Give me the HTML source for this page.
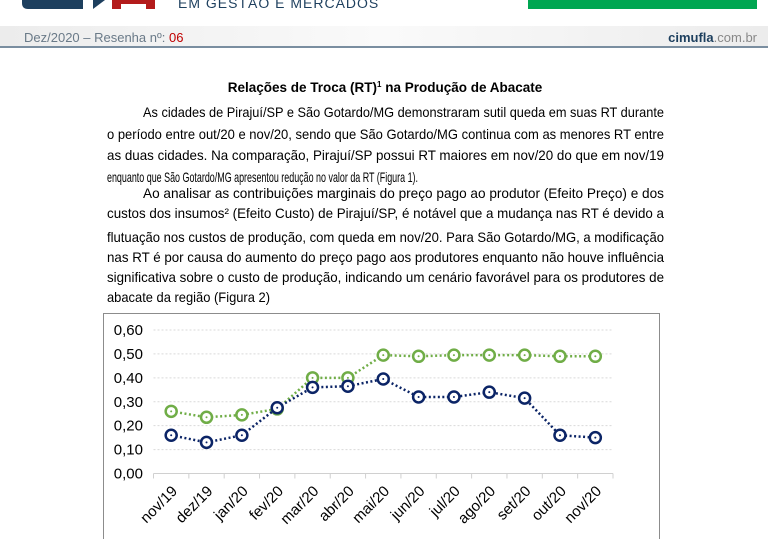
<!DOCTYPE html>
<html><head><meta charset="utf-8"><style>
body{margin:0;background:#fff;width:768px;height:539px;overflow:hidden;font-family:"Liberation Sans",sans-serif}
svg{display:block}
</style></head><body>
<svg width="768" height="539" viewBox="0 0 768 539">
<defs><linearGradient id="hg" x1="0" x2="1"><stop offset="0" stop-color="#ececec"/><stop offset="0.5" stop-color="#fafafa"/><stop offset="1" stop-color="#ececec"/></linearGradient></defs>
<g>
<path d="M22 0H83V9H28Q22 9 22 3Z" fill="#1d3f5e"/>
<path d="M93 9L105 0H93Z" fill="#1d3f5e"/>
<path d="M112 0H155V9H146V4H121V9H112Z" fill="#b31b1b"/>
<text x="178" y="8" font-size="14" fill="#1d3f5e" letter-spacing="1">EM GESTÃO E MERCADOS</text>
<rect x="528" y="0" width="229" height="9" fill="#00a651"/>
<rect x="0" y="26" width="768" height="20" fill="url(#hg)"/>
<rect x="0" y="46" width="768" height="2" fill="#7a8ea0"/>
<text x="24" y="42" font-size="13" fill="#6a7a88">Dez/2020 – Resenha nº: <tspan fill="#c00000">06</tspan></text>
<text x="757" y="42" font-size="13" text-anchor="end" fill="#888"><tspan font-weight="bold" fill="#1d3f5e">cimufla</tspan>.com.br</text>
</g>
<text x="385" y="92" font-size="13.5" font-weight="bold" text-anchor="middle" fill="#000">Relações de Troca (RT)<tspan font-size="8" dy="-5">1</tspan><tspan dy="5"> na Produção de Abacate</tspan></text>
<g font-size="14" fill="#000">
<text x="143" y="117" textLength="521" lengthAdjust="spacingAndGlyphs">As cidades de Pirajuí/SP e São Gotardo/MG demonstraram sutil queda em suas RT durante</text>
<text x="107" y="139" textLength="557" lengthAdjust="spacingAndGlyphs">o período entre out/20 e nov/20, sendo que São Gotardo/MG continua com as menores RT entre</text>
<text x="107" y="160" textLength="557" lengthAdjust="spacingAndGlyphs">as duas cidades. Na comparação, Pirajuí/SP possui RT maiores em nov/20 do que em nov/19</text>
<text x="107" y="182" textLength="311" lengthAdjust="spacingAndGlyphs">enquanto que São Gotardo/MG apresentou redução no valor da RT (Figura 1).</text>
<text x="143" y="198" textLength="521" lengthAdjust="spacingAndGlyphs">Ao analisar as contribuições marginais do preço pago ao produtor (Efeito Preço) e dos</text>
<text x="107" y="218" textLength="557" lengthAdjust="spacingAndGlyphs">custos dos insumos² (Efeito Custo) de Pirajuí/SP, é notável que a mudança nas RT é devido a</text>
<text x="107" y="242" textLength="557" lengthAdjust="spacingAndGlyphs">flutuação nos custos de produção, com queda em nov/20. Para São Gotardo/MG, a modificação</text>
<text x="107" y="262" textLength="557" lengthAdjust="spacingAndGlyphs">nas RT é por causa do aumento do preço pago aos produtores enquanto não houve influência</text>
<text x="107" y="282" textLength="557" lengthAdjust="spacingAndGlyphs">significativa sobre o custo de produção, indicando um cenário favorável para os produtores de</text>
<text x="107" y="302" textLength="163" lengthAdjust="spacingAndGlyphs">abacate da região (Figura 2)</text>
</g>
<rect x="103.5" y="313.5" width="556" height="240" fill="#fff" stroke="#8c8c8c"/>
<g id="chart"></g>
</svg>
<script>
const categories=["nov/19","dez/19","jan/20","fev/20","mar/20","abr/20","mai/20","jun/20","jul/20","ago/20","set/20","out/20","nov/20"];
const pirajui=[0.26,0.235,0.245,0.27,0.40,0.40,0.495,0.49,0.495,0.495,0.495,0.49,0.49];
const saoGotardo=[0.16,0.13,0.16,0.275,0.36,0.365,0.395,0.32,0.32,0.34,0.315,0.16,0.15];
const yTicks=[0,0.1,0.2,0.3,0.4,0.5,0.6];
const yTickLabels=["0,00","0,10","0,20","0,30","0,40","0,50","0,60"];
const NS="http://www.w3.org/2000/svg";
const g=document.getElementById('chart');
const x0=153.5,x1=613,y0=473.5,y1=330;
const band=(x1-x0)/categories.length;
const xs=i=>x0+band*(i+0.5);
const ys=v=>y0-(v/0.6)*(y0-y1);
function mk(t,a){const e=document.createElementNS(NS,t);for(const k in a)e.setAttribute(k,a[k]);g.appendChild(e);return e;}
yTicks.forEach((v,i)=>{
  if(v>0){const l=mk('line',{x1:x0,x2:x1,y1:ys(v),y2:ys(v),stroke:'#d9d9d9','stroke-dasharray':'2,2'});
  
  }
  const t=mk('text',{x:143,y:ys(v)+5,'text-anchor':'end','font-size':15,fill:'#000'});
  t.textContent=yTickLabels[i];
  
  
});
const ax=mk('line',{x1:x0,x2:x1,y1:y0,y2:y0,stroke:'#d0d0d0'});


for(let i=0;i<=categories.length;i++){const tk=mk('line',{x1:x0+band*i,x2:x0+band*i,y1:y0,y2:y0+5,stroke:'#d0d0d0'});

}
categories.forEach((c,i)=>{
  const ax_=xs(i)+7, ay=492;
  const t=mk('text',{x:ax_,y:ay,'text-anchor':'end','font-size':15,fill:'#000',transform:`rotate(-45 ${ax_} ${ay})`});
  t.textContent=c;
  
  
});
function series(vals,color,name){
  const p=mk('polyline',{points:vals.map((v,i)=>xs(i)+','+ys(v)).join(' '),fill:'none',stroke:color,'stroke-width':2.5,'stroke-dasharray':'2,2.5'});
  
  
  vals.forEach((v,i)=>{
    const c=mk('circle',{cx:xs(i),cy:ys(v),r:5.5,fill:'#fff',stroke:color,'stroke-width':2.5});
    
    
    const d=mk('circle',{cx:xs(i),cy:ys(v),r:1,fill:color});
    
    
  });
}
series(pirajui,'#70ad47','pirajui');
series(saoGotardo,'#0b2466','sao-gotardo');
</script>
</body></html>
